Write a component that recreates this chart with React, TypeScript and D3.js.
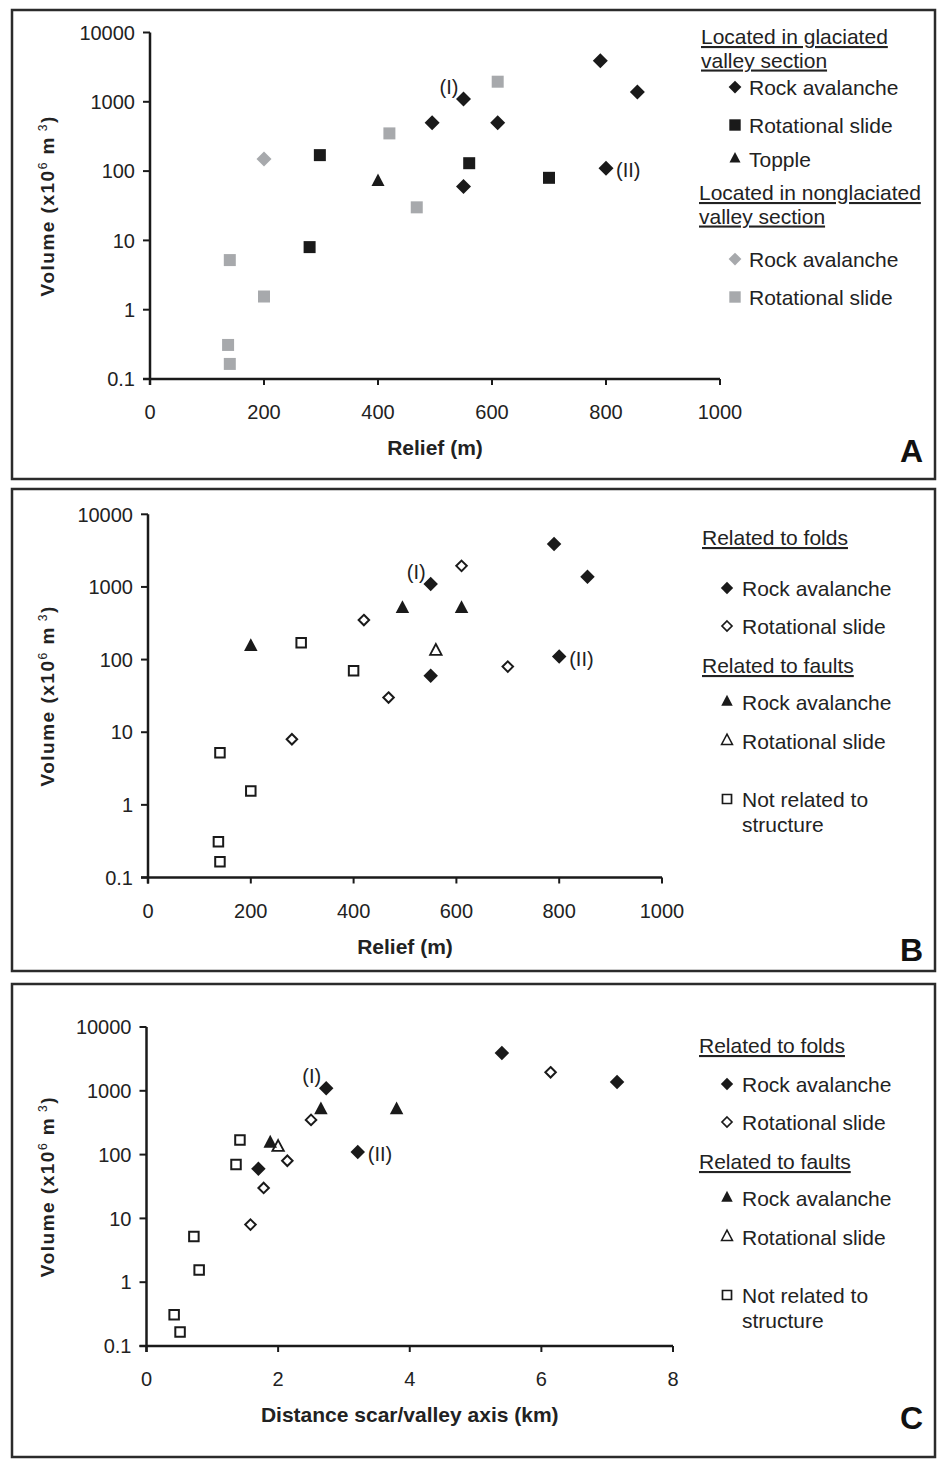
import * as d3 from "d3";

// one row per landslide, same order in every array
const relief = [790, 855, 550, 495, 610, 550, 800, 298, 560, 700, 280, 400, 200, 610, 420, 468, 140, 200, 137, 140];
const volume = [3900, 1380, 1100, 500, 500, 60, 110, 170, 130, 80, 8, 70, 150, 1950, 350, 30, 5.2, 1.55, 0.31, 0.165];
const distance = [5.4, 7.15, 2.73, 2.65, 3.8, 1.7, 3.21, 1.42, 2.0, 2.14, 1.58, 1.36, 1.88, 6.14, 2.5, 1.78, 0.72, 0.8, 0.42, 0.51];
const valleyGroup = [
  "glacRA", "glacRA", "glacRA", "glacRA", "glacRA", "glacRA", "glacRA",
  "glacRS", "glacRS", "glacRS", "glacRS", "topple",
  "nonRA", "nonRS", "nonRS", "nonRS", "nonRS", "nonRS", "nonRS", "nonRS",
];
const structureGroup = [
  "foldRA", "foldRA", "foldRA", "faultRA", "faultRA", "foldRA", "foldRA",
  "none", "faultRS", "foldRS", "foldRS", "none",
  "faultRA", "foldRS", "foldRS", "foldRS", "none", "none", "none", "none",
];
const pointLabels: Record<number, string> = { 2: "(I)", 6: "(II)" };

const reliefTicks = [0, 200, 400, 600, 800, 1000];
const distanceTicks = [0, 2, 4, 6, 8];
const volumeTicks = [0.1, 1, 10, 100, 1000, 10000];

const BLACK = "#1a1a1a";
const GRAY = "#a7a9ac";
const FONT = "'Liberation Sans', Arial, Helvetica, sans-serif";

type Mk = { shape: string; size: number; fill: string; stroke?: string; sw?: number };

const markers: Record<string, Mk> = {
  glacRA: { shape: "diamond", size: 15, fill: BLACK },
  glacRS: { shape: "square", size: 12, fill: BLACK },
  topple: { shape: "triangle", size: 13, fill: BLACK },
  nonRA: { shape: "diamond", size: 15, fill: GRAY },
  nonRS: { shape: "square", size: 12, fill: GRAY },
  foldRA: { shape: "diamond", size: 14.5, fill: BLACK },
  foldRS: { shape: "diamond", size: 10.5, fill: "#fff", stroke: BLACK, sw: 2 },
  faultRA: { shape: "triangle", size: 13.5, fill: BLACK },
  faultRS: { shape: "triangle", size: 11.5, fill: "#fff", stroke: BLACK, sw: 1.8 },
  none: { shape: "square", size: 9.5, fill: "#fff", stroke: BLACK, sw: 2 },
};

function shapePath(shape: string, s: number) {
  const r = s / 2;
  if (shape === "diamond") return `M0,${-r}L${r},0L0,${r}L${-r},0Z`;
  if (shape === "square") return `M${-r},${-r}h${s}v${s}h${-s}Z`;
  const h = s * 0.95;
  return `M0,${(-2 * h) / 3}L${r},${h / 3}L${-r},${h / 3}Z`;
}

function Marker({ kind, x, y, scale = 1 }: { kind: string; x: number; y: number; scale?: number }) {
  const m = markers[kind];
  return (
    <path
      d={shapePath(m.shape, m.size * scale)}
      transform={`translate(${x},${y})`}
      fill={m.fill}
      stroke={m.stroke || "none"}
      strokeWidth={m.sw ? m.sw * (scale < 1 ? 0.85 : 1) : 0}
    />
  );
}

type LegendRow =
  | { type: "head"; lines: string[]; x: number; y: number }
  | { type: "item"; kind: string; lines: string[]; y: number };

const legendA: LegendRow[] = [
  { type: "head", lines: ["Located in glaciated", "valley section"], x: 701, y: 44 },
  { type: "item", kind: "glacRA", lines: ["Rock avalanche"], y: 95 },
  { type: "item", kind: "glacRS", lines: ["Rotational slide"], y: 133 },
  { type: "item", kind: "topple", lines: ["Topple"], y: 167 },
  { type: "head", lines: ["Located in nonglaciated", "valley section"], x: 699, y: 200 },
  { type: "item", kind: "nonRA", lines: ["Rock avalanche"], y: 267 },
  { type: "item", kind: "nonRS", lines: ["Rotational slide"], y: 305 },
];

const structureLegend = (off: number, headX: number, firstHead: number): LegendRow[] => [
  { type: "head", lines: ["Related to folds"], x: headX, y: firstHead },
  { type: "item", kind: "foldRA", lines: ["Rock avalanche"], y: 596 + off },
  { type: "item", kind: "foldRS", lines: ["Rotational slide"], y: 634 + off },
  { type: "head", lines: ["Related to faults"], x: headX, y: 673 + off },
  { type: "item", kind: "faultRA", lines: ["Rock avalanche"], y: 710 + off },
  { type: "item", kind: "faultRS", lines: ["Rotational slide"], y: 749 + off },
  { type: "item", kind: "none", lines: ["Not related to", "structure"], y: 807 + off },
];

type PanelCfg = {
  letter: string;
  frame: [number, number, number, number];
  xs: number[];
  xTicks: number[];
  xDomain: [number, number];
  xRange: [number, number];
  yRange: [number, number];
  xTitle: string;
  groups: string[];
  legend: LegendRow[];
  markerX: number;
  textX: number;
};

const panels: PanelCfg[] = [
  {
    letter: "A", frame: [12, 10, 923, 469], xs: relief, xTicks: reliefTicks,
    xDomain: [0, 1000], xRange: [150, 720], yRange: [379, 32.5],
    xTitle: "Relief (m)", groups: valleyGroup, legend: legendA, markerX: 735, textX: 749,
  },
  {
    letter: "B", frame: [12, 489, 923, 482], xs: relief, xTicks: reliefTicks,
    xDomain: [0, 1000], xRange: [148, 662], yRange: [877.5, 514.3],
    xTitle: "Relief (m)", groups: structureGroup, legend: structureLegend(0, 702, 545),
    markerX: 727, textX: 742,
  },
  {
    letter: "C", frame: [12, 984, 923, 473], xs: distance, xTicks: distanceTicks,
    xDomain: [0, 8], xRange: [146.5, 673], yRange: [1346, 1027],
    xTitle: "Distance scar/valley axis (km)", groups: structureGroup,
    legend: structureLegend(496, 699, 1053), markerX: 727, textX: 742,
  },
];

function Panel({ p }: { p: PanelCfg }) {
  const x = d3.scaleLinear().domain(p.xDomain).range(p.xRange);
  const y = d3.scaleLog().domain([0.1, 10000]).range(p.yRange);
  const x0 = p.xRange[0];
  const y0 = p.yRange[0];
  const [fx, fy, fw, fh] = p.frame;
  const yMid = (p.yRange[0] + p.yRange[1]) / 2;
  const xMid = (p.xRange[0] + p.xRange[1]) / 2;
  const fmt = (v: number) => (v < 1 ? String(v) : d3.format("d")(v));

  return (
    <g>
      <rect x={fx} y={fy} width={fw} height={fh} fill="none" stroke="#2b2b2b" strokeWidth={2.5} />

      {/* axes */}
      <line x1={x0} x2={x0} y1={y(10000)} y2={y0 + 6} stroke={BLACK} strokeWidth={2.5} />
      <line x1={x0 - 7} x2={x(p.xDomain[1])} y1={y0} y2={y0} stroke={BLACK} strokeWidth={2.5} />
      {volumeTicks.map((t) => (
        <g key={t}>
          <line x1={x0 - 7} x2={x0} y1={y(t)} y2={y(t)} stroke={BLACK} strokeWidth={2} />
          <text x={x0 - 15} y={y(t)} dy="0.36em" textAnchor="end" fontSize={20} fill="#222">
            {fmt(t)}
          </text>
        </g>
      ))}
      {p.xTicks.map((t) => (
        <g key={t}>
          <line x1={x(t)} x2={x(t)} y1={y0} y2={y0 + 6} stroke={BLACK} strokeWidth={2} />
          <text x={x(t)} y={y0 + 40} textAnchor="middle" fontSize={20} fill="#222">
            {t}
          </text>
        </g>
      ))}

      <text
        transform={`translate(54,${yMid}) rotate(-90)`}
        textAnchor="middle"
        fontWeight="bold"
        fontSize={19}
        letterSpacing={1.5}
        fill="#222"
      >
        Volume (x10
        <tspan dy={-7} fontSize={12} fontWeight="normal">6</tspan>
        <tspan dy={7}> m</tspan>
        <tspan dy={-7} fontSize={12} fontWeight="normal"> 3</tspan>
        <tspan dy={7}>)</tspan>
      </text>
      <text x={xMid} y={y0 + 76} textAnchor="middle" fontWeight="bold" fontSize={21} fill="#222">
        {p.xTitle}
      </text>
      <text x={923} y={y0 + 83} textAnchor="end" fontWeight="bold" fontSize={32} fill="#111">
        {p.letter}
      </text>

      {/* points */}
      {p.xs.map((v, i) => (
        <Marker key={i} kind={p.groups[i]} x={x(v)} y={y(volume[i])} />
      ))}
      {Object.entries(pointLabels).map(([k, lab]) => {
        const i = +k;
        const px = x(p.xs[i]);
        const py = y(volume[i]);
        const first = lab === "(I)";
        return (
          <text
            key={k}
            x={first ? px - 5 : px + 10}
            y={first ? py - 5 : py + 9}
            textAnchor={first ? "end" : "start"}
            fontSize={20}
            fill="#222"
          >
            {lab}
          </text>
        );
      })}

      {/* legend */}
      {p.legend.map((row, j) =>
        row.type === "head" ? (
          <text key={j} x={row.x} y={row.y} fontSize={21} fill="#222">
            {row.lines.map((l, k) => (
              <tspan key={k} x={row.x} dy={k === 0 ? 0 : 23.5} textDecoration="underline">
                {l}
              </tspan>
            ))}
          </text>
        ) : (
          <g key={j}>
            <Marker kind={row.kind} x={p.markerX} y={row.y - 8} scale={row.kind.endsWith("RS") || row.kind === "none" ? 0.95 : 0.85} />
            <text x={p.textX} y={row.y} fontSize={21} fill="#222">
              {row.lines.map((l, k) => (
                <tspan key={k} x={p.textX} dy={k === 0 ? 0 : 25}>
                  {l}
                </tspan>
              ))}
            </text>
          </g>
        )
      )}
    </g>
  );
}

export default function App() {
  return (
    <svg
      width={944}
      height={1459}
      style={{ position: "absolute", left: 0, top: 0, background: "#fff" }}
      fontFamily={FONT}
    >
      <rect width={944} height={1459} fill="#fff" />
      {panels.map((p) => (
        <Panel key={p.letter} p={p} />
      ))}
    </svg>
  );
}
